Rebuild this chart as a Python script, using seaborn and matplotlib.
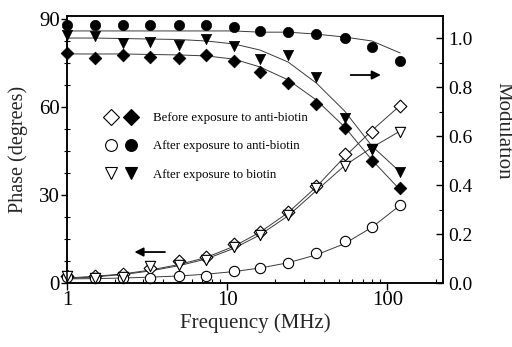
import matplotlib
matplotlib.use("Agg")
import matplotlib.pyplot as plt
import seaborn as sns
import numpy as np
from matplotlib.lines import Line2D
from matplotlib.legend_handler import HandlerTuple
from matplotlib.ticker import LogLocator, NullFormatter, MultipleLocator

# ---------------- data ----------------
freq = [1, 1.5, 2.25, 3.3, 5, 7.4, 11, 16, 24, 36, 54, 80, 120]

# phase (degrees) - open symbols
phase_before = [2.4, 2.4, 3.1, 5.1, 7.5, 8.9, 13.3, 17.4, 24.2, 33.1, 44.0, 51.5, 60.3]
phase_after_ab = [2.0, 1.7, 1.7, 1.7, 2.4, 2.4, 4.1, 5.1, 6.8, 10.2, 14.3, 19.1, 26.6]
phase_after_b = [2.4, 1.7, 2.0, 5.8, 6.1, 7.8, 12.3, 16.4, 23.2, 32.4, 39.9, 45.7, 51.5]

phase_before_fit = [1.7, 2.3, 3.1, 4.4, 6.3, 8.7, 12.5, 17.3, 24.0, 32.8, 43.0, 52.0, 60.5]
phase_after_ab_fit = [1.4, 1.5, 1.7, 2.0, 2.4, 3.0, 3.9, 5.1, 6.9, 9.6, 13.4, 19.0, 26.5]
phase_after_b_fit = [1.5, 2.1, 2.9, 4.1, 5.9, 8.2, 11.8, 16.4, 22.9, 31.5, 40.0, 46.2, 51.8]

# modulation - filled symbols
mod_before = [0.939, 0.918, 0.931, 0.922, 0.918, 0.931, 0.906, 0.861, 0.816, 0.731, 0.633, 0.498, 0.388]
mod_after_ab = [1.053, 1.053, 1.053, 1.053, 1.053, 1.053, 1.045, 1.029, 1.024, 1.016, 1.000, 0.963, 0.906]
mod_after_b = [1.012, 1.008, 0.980, 0.984, 0.971, 0.996, 0.967, 0.914, 0.929, 0.841, 0.673, 0.547, 0.453]

mod_before_fit = [0.935, 0.935, 0.935, 0.933, 0.931, 0.927, 0.914, 0.882, 0.829, 0.747, 0.637, 0.502, 0.380]
mod_after_ab_fit = [1.029, 1.029, 1.029, 1.029, 1.029, 1.029, 1.029, 1.024, 1.024, 1.016, 1.004, 0.988, 0.939]
mod_after_b_fit = [1.0, 1.0, 0.998, 0.996, 0.994, 0.988, 0.976, 0.951, 0.902, 0.816, 0.702, 0.559, 0.453]

legend_labels = ["Before exposure to anti-biotin",
                 "After exposure to anti-biotin",
                 "After exposure to biotin"]

x_ticks = [1, 10, 100]
x_ticklabels = ["1", "10", "100"]
left_ticks = [0, 30, 60, 90]
right_ticks = [0.0, 0.2, 0.4, 0.6, 0.8, 1.0]

# ---------------- style ----------------
sns.set_theme(style="ticks")
plt.rcParams["font.family"] = ["Liberation Serif", "DejaVu Serif"]
plt.rcParams["axes.edgecolor"] = "black"
plt.rcParams["axes.linewidth"] = 1.1
plt.rcParams["xtick.color"] = "black"
plt.rcParams["ytick.color"] = "black"
plt.rcParams["text.color"] = "black"

fig = plt.figure(figsize=(5.12, 3.47), dpi=100)
ax = fig.add_axes([67 / 512, (347 - 283) / 347, (443 - 67) / 512, (283 - 16) / 347])
ax2 = ax.twinx()

ax.set_xscale("log")
lc = "#3a3a3a"
lw = 0.7

# fit lines
for yfit in (phase_before_fit, phase_after_ab_fit, phase_after_b_fit):
    sns.lineplot(x=freq, y=yfit, ax=ax, color=lc, lw=lw)
for yfit in (mod_before_fit, mod_after_ab_fit, mod_after_b_fit):
    sns.lineplot(x=freq, y=yfit, ax=ax2, color=lc, lw=lw)

ms = dict(D=42, o=55, v=55)
open_kw = dict(facecolor="white", edgecolor="black", linewidth=0.8, clip_on=False, zorder=5)
fill_kw = dict(color="black", edgecolor="black", linewidth=0.5, clip_on=False, zorder=5)

sns.scatterplot(x=freq, y=phase_before, ax=ax, marker="D", s=ms["D"], **open_kw)
sns.scatterplot(x=freq, y=phase_after_ab, ax=ax, marker="o", s=ms["o"], **open_kw)
sns.scatterplot(x=freq, y=phase_after_b, ax=ax, marker="v", s=ms["v"], **open_kw)

sns.scatterplot(x=freq, y=mod_before, ax=ax2, marker="D", s=ms["D"], **fill_kw)
sns.scatterplot(x=freq, y=mod_after_ab, ax=ax2, marker="o", s=ms["o"], **fill_kw)
sns.scatterplot(x=freq, y=mod_after_b, ax=ax2, marker="v", s=ms["v"], **fill_kw)

# axes limits / ticks
ax.set_xlim(1, 222)
ax.set_ylim(0, 91)
ax2.set_ylim(0, 1.09)

ax.set_xticks(x_ticks, labels=x_ticklabels)
ax.xaxis.set_minor_locator(LogLocator(base=10, subs=np.arange(2, 10)))
ax.xaxis.set_minor_formatter(NullFormatter())
ax.set_yticks(left_ticks)
ax.yaxis.set_minor_locator(MultipleLocator(7.5))
ax2.set_yticks(right_ticks, labels=[f"{v:.1f}" for v in right_ticks])
ax2.yaxis.set_minor_locator(MultipleLocator(0.1))

ax.tick_params(axis="x", which="major", direction="out", length=5, width=1, labelsize=15, pad=1)
ax.tick_params(axis="x", which="minor", direction="in", length=3, width=0.8)
ax.tick_params(axis="y", which="major", direction="out", length=4, width=1, labelsize=15, pad=1)
ax.tick_params(axis="y", which="minor", direction="inout", length=5, width=0.8)
ax2.tick_params(axis="y", which="major", direction="in", length=5, width=1, labelsize=14, pad=4)
ax2.tick_params(axis="y", which="minor", direction="in", length=3, width=0.8)

for a in (ax, ax2):
    for s in a.spines.values():
        s.set_visible(True)
        s.set_color("black")

ax.set_xlabel("Frequency (MHz)", fontsize=15)
ax.xaxis.set_label_coords(0.5, -0.115)
ax.set_ylabel("Phase (degrees)", fontsize=14.5)
ax.yaxis.set_label_coords(-0.105, 0.5)
ax2.set_ylabel("Modulation", fontsize=15, rotation=270, va="bottom")
ax2.yaxis.set_label_coords(1.135, 0.57)

# arrows
ax.annotate("", xy=(0.172, 0.116), xytext=(0.268, 0.116), xycoords="axes fraction",
            arrowprops=dict(arrowstyle="-|>", color="black", lw=1.3, mutation_scale=13))
ax2.annotate("", xy=(0.842, 0.779), xytext=(0.747, 0.779), xycoords="axes fraction",
             arrowprops=dict(arrowstyle="-|>", color="black", lw=1.3, mutation_scale=13))

# legend
def mk(marker, filled):
    return Line2D([], [], ls="none", marker=marker, markersize=8.5,
                  markerfacecolor="black" if filled else "white",
                  markeredgecolor="black", markeredgewidth=0.8)

handles = [(mk("D", False), mk("D", True)),
           (mk("o", False), mk("o", True)),
           (mk("v", False), mk("v", True))]
leg = ax2.legend(handles, legend_labels, handler_map={tuple: HandlerTuple(ndivide=None, pad=0.8)},
                 loc="upper left", bbox_to_anchor=(0.104, 0.64), frameon=False,
                 fontsize=9.3, handlelength=2.35, handletextpad=1.25, labelspacing=1.25,
                 borderpad=0, borderaxespad=0)

fig.savefig("out.png", dpi=100)
